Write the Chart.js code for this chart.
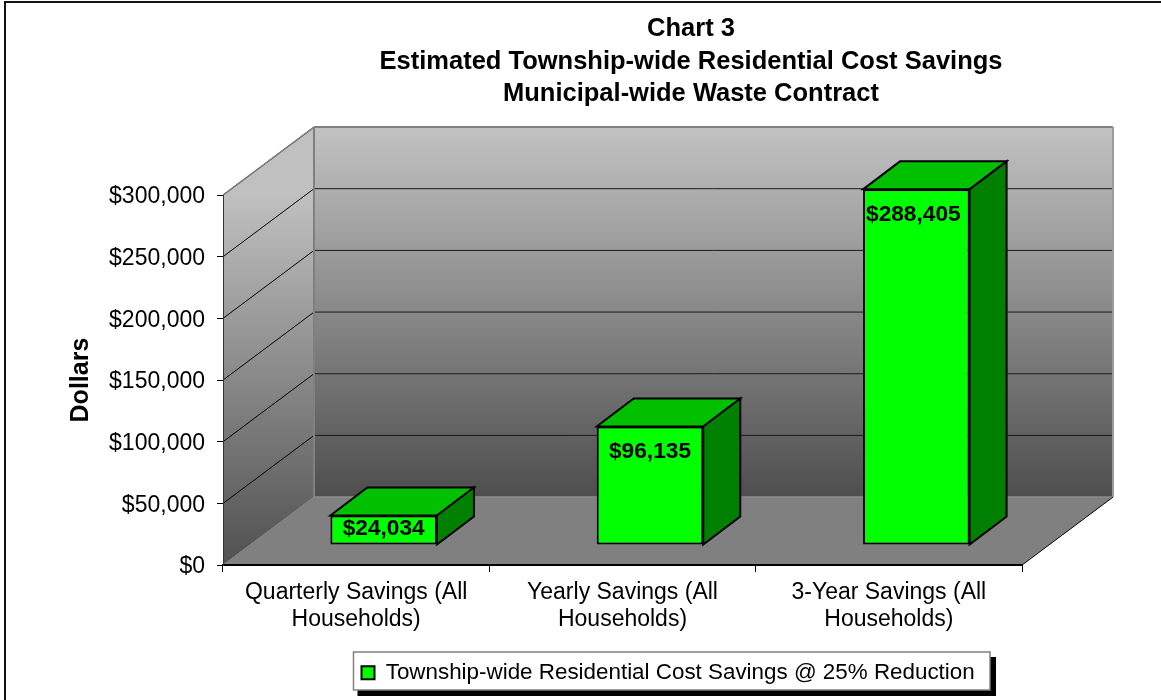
<!DOCTYPE html>
<html><head><meta charset="utf-8">
<script src="https://cdn.jsdelivr.net/npm/chart.js@4"></script>
<style>html,body{margin:0;padding:0;background:#fff}canvas{display:block}</style>
</head><body><canvas id="c" width="1161" height="700"></canvas>
<script>
const categories = [["Quarterly Savings (All","Households)"],["Yearly Savings (All","Households)"],["3-Year Savings (All","Households)"]];
const seriesName = "Township-wide Residential Cost Savings @ 25% Reduction";
const savings = [24034, 96135, 288405];
const valueLabels = ["$24,034", "$96,135", "$288,405"];
const titleLines = ["Chart 3", "Estimated Township-wide Residential Cost Savings", "Municipal-wide Waste Contract"];
const yAxisTitle = "Dollars";
const yMax = 300000, yStep = 50000;

const FONT = "'Liberation Sans', Arial, sans-serif";
const DEPTH = {x: 91, y: -68};      // wall depth
const BAR_SHIFT = {x: 27.5, y: -20}; // bars stand inside the floor
const BAR_DEPTH = {x: 37, y: -28};

function poly(ctx, pts, fill, stroke, lw) {
  ctx.beginPath();
  pts.forEach((p, i) => i ? ctx.lineTo(p[0], p[1]) : ctx.moveTo(p[0], p[1]));
  ctx.closePath();
  if (fill) { ctx.fillStyle = fill; ctx.fill(); }
  if (stroke) { ctx.strokeStyle = stroke; ctx.lineWidth = lw || 1; ctx.stroke(); }
}
function line(ctx, x1, y1, x2, y2, color, lw) {
  ctx.beginPath(); ctx.moveTo(x1, y1); ctx.lineTo(x2, y2);
  ctx.strokeStyle = color; ctx.lineWidth = lw; ctx.stroke();
}

const scene = {
  id: 'scene',
  afterLayout(chart) {
    const t = chart.titleBlock, l = chart.legend;
    t.left = 222; t.right = 1160; t.top = 0;
    l.left = 353.5; l.right = 990; l.top = 653.5;
  },
  beforeDraw(chart) {
    const ctx = chart.ctx, a = chart.chartArea, y = chart.scales.y, l = chart.legend;
    ctx.save();
    // outer frame
    ctx.fillStyle = '#111';
    ctx.fillRect(4, 1, chart.width - 4, 2);
    ctx.fillRect(4, 1, 2, chart.height - 1);
    // legend frame
    const bx = l.left, by = 652, bw = l.right - l.left, bh = 38;
    ctx.fillStyle = '#000';
    ctx.fillRect(bx + 4, by + 5, bw + 2, bh + 1);
    ctx.fillStyle = '#fff';
    ctx.fillRect(bx, by, bw, bh);
    ctx.strokeStyle = '#808080'; ctx.lineWidth = 1.5;
    ctx.strokeRect(bx, by, bw, bh);

    const L = a.left, R = a.right, T = a.top, B = a.bottom, dx = DEPTH.x, dy = DEPTH.y;
    // back wall
    const g = ctx.createLinearGradient(0, T + dy, 0, B + dy);
    g.addColorStop(0, '#c2c2c2'); g.addColorStop(1, '#4e4e4e');
    poly(ctx, [[L + dx, T + dy], [R + dx, T + dy], [R + dx, B + dy], [L + dx, B + dy]], g);
    // side wall
    const sg = ctx.createLinearGradient(0, T, 0, B);
    sg.addColorStop(0, '#c0c0c0'); sg.addColorStop(1, '#505050');
    poly(ctx, [[L, T], [L + dx, T + dy], [L + dx, B + dy], [L, B]], sg);
    // floor
    poly(ctx, [[L, B], [R, B], [R + dx, B + dy], [L + dx, B + dy]], '#808080');
    // grid lines on both walls
    for (let v = yStep; v <= yMax; v += yStep) {
      const p = y.getPixelForValue(v);
      line(ctx, L, p, L + dx, p + dy, '#000', 1);
      line(ctx, L + dx, p + dy, R + dx, p + dy, '#1a1a1a', 1);
    }
    // wall outlines
    ctx.lineJoin = 'miter';
    line(ctx, L, T, L + dx, T + dy, '#808080', 1.5);
    line(ctx, L + dx, T + dy, R + dx, T + dy, '#808080', 2);
    line(ctx, L + dx, T + dy, L + dx, B + dy, '#808080', 2);
    line(ctx, R + dx, T + dy, R + dx, B + dy, '#9a9a9a', 2);
    line(ctx, L + dx, B + dy, R + dx, B + dy, '#8c8c8c', 1.5);
    line(ctx, L, B, L + dx, B + dy, '#808080', 1);
    line(ctx, R, B, R + dx, B + dy, '#000', 1);
    ctx.restore();
  },
  beforeDatasetsDraw(chart) {
    const ctx = chart.ctx;
    ctx.save();
    ctx.translate(BAR_SHIFT.x, BAR_SHIFT.y);
    // top and side faces first
    chart.getDatasetMeta(0).data.forEach(b => {
      const x0 = b.x - b.width / 2, x1 = b.x + b.width / 2, dx = BAR_DEPTH.x, dy = BAR_DEPTH.y;
      poly(ctx, [[x0, b.y], [x0 + dx, b.y + dy], [x1 + dx, b.y + dy], [x1, b.y]], '#00c000', '#000', 2);
      poly(ctx, [[x1, b.y], [x1 + dx, b.y + dy], [x1 + dx, b.base + dy], [x1, b.base]], '#008000', '#000', 2);
    });
  },
  afterDatasetsDraw(chart) {
    const ctx = chart.ctx;
    ctx.textAlign = 'center';
    ctx.textBaseline = 'middle';
    ctx.fillStyle = '#000';
    ctx.font = "bold 22.7px " + FONT;
    chart.getDatasetMeta(0).data.forEach((b, i) => {
      const mid = (b.y + b.base) / 2;
      ctx.fillText(valueLabels[i], b.x - (i === 2 ? 3 : 0), Math.min(b.y + 25, mid - 1));
    });
    ctx.restore();
  }
};

new Chart(document.getElementById('c'), {
  type: 'bar',
  data: {
    labels: categories,
    datasets: [{
      label: seriesName,
      data: savings,
      backgroundColor: '#00ff00',
      borderColor: '#000',
      borderWidth: 2,
      borderSkipped: false,
      categoryPercentage: 0.4,
      barPercentage: 1,
      clip: false
    }]
  },
  plugins: [scene],
  options: {
    responsive: false,
    animation: false,
    layout: {padding: {left: 66.5, top: 84.5, right: 139, bottom: 14.5}},
    plugins: {
      tooltip: {enabled: false},
      title: {
        display: true,
        text: titleLines,
        color: '#000',
        font: {family: FONT, size: 25.5, weight: 'bold', lineHeight: 1.275},
        padding: {top: 13, bottom: 0},
        fullSize: true
      },
      legend: {
        display: true,
        position: 'bottom',
        align: 'start',
        labels: {
          color: '#000',
          font: {family: FONT, size: 22.4},
          boxWidth: 13, boxHeight: 13, padding: 8
        }
      }
    },
    scales: {
      x: {
        grid: {drawOnChartArea: false, drawTicks: true, tickLength: 7, color: '#000', offset: true},
        border: {display: true, color: '#000', width: 2},
        ticks: {color: '#000', font: {family: FONT, size: 23, lineHeight: 1.17}, padding: 7.5, maxRotation: 0, autoSkip: false},
        afterFit(s) { s.height = 80; }
      },
      y: {
        min: 0, max: yMax,
        grid: {drawOnChartArea: false, drawTicks: true, tickLength: 6, color: '#000'},
        border: {display: true, color: '#333', width: 1},
        ticks: {
          stepSize: yStep, color: '#000', padding: 12, labelOffset: 2,
          font: {family: FONT, size: 23},
          callback: v => '$' + v.toLocaleString('en-US')
        },
        title: {display: true, text: yAxisTitle, color: '#000', font: {family: FONT, size: 25, weight: 'bold'}, padding: 0},
        afterFit(s) { s.width = 156.5; }
      }
    }
  }
});
</script></body></html>
